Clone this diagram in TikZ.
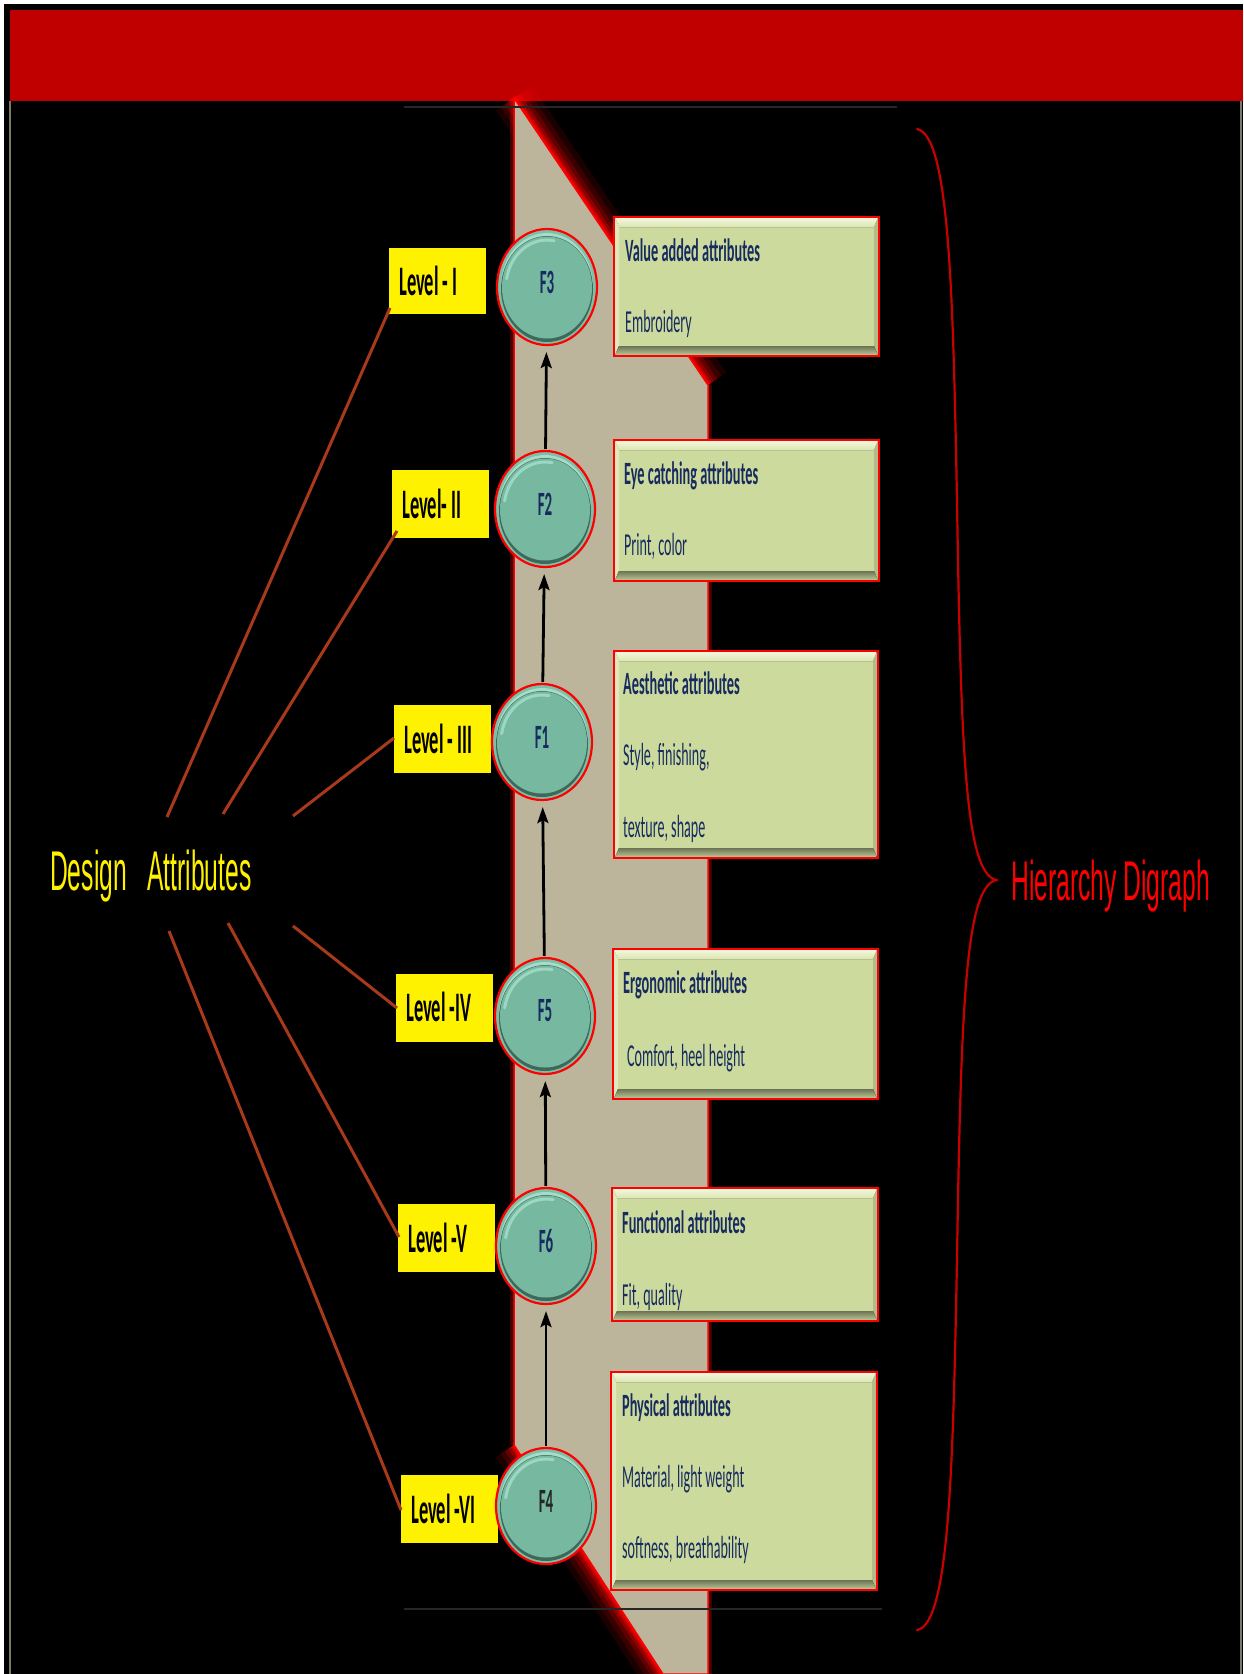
\documentclass[tikz,border=0pt]{standalone}
\usepackage{fontspec}
\usetikzlibrary{shapes.geometric,arrows.meta,fit}
\newfontfamily\calib[FakeStretch=0.44]{Carlito}
\newfontfamily\thinf[FakeStretch=0.44]{Liberation Sans}
\definecolor{bandc}{HTML}{BCB59B}
\definecolor{topred}{HTML}{C00000}
\definecolor{framegray}{HTML}{7A7A66}
\definecolor{linegray}{HTML}{262626}
\definecolor{brn}{HTML}{A8391B}
\definecolor{navy}{HTML}{172B5E}
\definecolor{boxface}{HTML}{CCDA9E}
\definecolor{bvtopa}{HTML}{F3F7DA}
\definecolor{bvtopb}{HTML}{DAE5B2}
\definecolor{bvleft}{HTML}{E0E9BC}
\definecolor{bvright}{HTML}{B2BC89}
\definecolor{bvbota}{HTML}{6C7354}
\definecolor{bvbotb}{HTML}{BAC492}
\definecolor{sphout}{HTML}{7DBFA7}
\definecolor{sphhi}{HTML}{A6DCC8}
\definecolor{sphdk}{HTML}{3E6859}
\definecolor{sphface}{HTML}{76B8A0}
\definecolor{sphgl}{HTML}{A9E2CD}
\definecolor{bracered}{HTML}{C80000}

\newcommand\sphere[5]{%
  \node[sph] (#1) at (#2,#3) {};
  \fill[sphhi] (#2,{#3-1}) ellipse [x radius=46pt, y radius=53pt];
  \fill[sphdk] (#2,{#3+2}) ellipse [x radius=46pt, y radius=53pt];
  \fill[sphface] (#2,{#3+0.5}) ellipse [x radius=45pt, y radius=51pt];
  \draw[sphgl, line width=3pt, opacity=0.75, line cap=round] (#2,#3) ++(80:41pt and 47pt) arc [start angle=80, end angle=170, x radius=41pt, y radius=47pt];
  \node[flbl, text=#5] (#1t) at (#2,{#3-5}) {#4};
}
\newcommand\attrbox[5]{%
  \node[abox, fit={(#2,#3)(#4,#5)}] (#1) {};
  \fill[top color=bvtopa, bottom color=bvtopb] ({#2+1.2},{#3+1.2}) -- ({#4-1.2},{#3+1.2}) -- ({#4-5},{#3+10}) -- ({#2+5},{#3+10}) -- cycle;
  \fill[bvleft] ({#2+1.2},{#3+1.2}) -- ({#2+5},{#3+10}) -- ({#2+5},{#5-10}) -- ({#2+1.2},{#5-1.2}) -- cycle;
  \fill[bvright] ({#4-1.2},{#3+1.2}) -- ({#4-5},{#3+10}) -- ({#4-5},{#5-10}) -- ({#4-1.2},{#5-1.2}) -- cycle;
  \fill[top color=bvbota, bottom color=bvbotb] ({#2+5},{#5-10}) -- ({#4-5},{#5-10}) -- ({#4-1.2},{#5-1.2}) -- ({#2+1.2},{#5-1.2}) -- cycle;
}

\begin{document}
\begin{tikzpicture}[x=1pt,y=-1pt,
  sph/.style={ellipse, minimum width=100pt, minimum height=116pt, inner sep=0pt, fill=sphout, draw=red, line width=2.2pt},
  abox/.style={rectangle, inner sep=0pt, draw=red, line width=2.5pt, fill=boxface},
  lvlbox/.style={rectangle, inner sep=0pt, fill=yellow},
  lvltxt/.style={anchor=base west, inner sep=0pt, font={\calib\bfseries\fontsize{42}{46}\selectfont}, text=black},
  ttl/.style={anchor=base west, inner sep=0pt, font={\calib\bfseries\fontsize{32.5}{36}\selectfont}, text=navy},
  bdy/.style={anchor=base west, inner sep=0pt, font={\calib\fontsize{32}{36}\selectfont}, text=navy},
  flbl/.style={inner sep=0pt, font={\calib\bfseries\fontsize{34}{38}\selectfont}},
  conn/.style={brn, line width=3pt},
  upar/.style={-{Stealth[length=16pt,width=11pt,inset=3pt]}, line width=2.8pt, black, shorten >=6pt, shorten <=1pt},
]
\useasboundingbox (0,0) rectangle (1243,1674);
% background
\fill[white] (0,0) rectangle (1243,1674);
\fill[black] (4,4) rectangle (1243,1674);
\fill[topred] (10,10) rectangle (1243,101);
\draw[framegray, line width=1.2pt] (10,101) -- (10,1674);
\draw[framegray, line width=1.2pt] (1241,101) -- (1241,1674);

% glow of the band
\foreach \w/\o in {44/0.10, 32/0.14, 22/0.2, 14/0.3, 8/0.45, 4/0.7} {
  \draw[red, line width=\w pt, opacity=\o] (514,98) -- (708,385);
  \draw[red, line width=\w pt, opacity=\o] (514,1445) -- (663,1674);
}
\draw[red, line width=8pt, opacity=0.25] (514,98) -- (514,1445);
\draw[red, line width=8pt, opacity=0.25] (708,385) -- (708,1674);
% band
\fill[bandc, draw=red, line width=1.5pt] (514,98) -- (708,385) -- (708,1674) -- (663,1674) -- (514,1445) -- cycle;

% horizontal guide lines
\draw[linegray, line width=2pt] (404,107) -- (897,107);
\draw[linegray, line width=2pt] (404,1609) -- (882,1609);

% yellow level boxes
\node[lvlbox, fit={(389,248)(486,314)}] (L1) {};
\node[lvlbox, fit={(392,470)(489,538)}] (L2) {};
\node[lvlbox, fit={(394,705)(491,773)}] (L3) {};
\node[lvlbox, fit={(396,974)(493,1042)}] (L4) {};
\node[lvlbox, fit={(398,1204)(495,1272)}] (L5) {};
\node[lvlbox, fit={(401,1475)(498,1543)}] (L6) {};
\node[lvltxt] (L1t) at (399,295) {Level - I};
\node[lvltxt] (L2t) at (402,518) {Level- II};
\node[lvltxt] (L3t) at (404,753) {Level - III};
\node[lvltxt] (L4t) at (406,1021) {Level -IV};
\node[lvltxt] (L5t) at (408,1252) {Level -V};
\node[lvltxt] (L6t) at (411,1523) {Level -VI};

% design attributes label and connectors
\node[anchor=base west, inner sep=0pt, font={\thinf\fontsize{56}{60}\selectfont}, text=yellow] (DA) at (50,890) {Design\ \ \ Attributes};
\coordinate (d1) at (167,817); \coordinate (e1) at (390,308);
\coordinate (d2) at (223,814); \coordinate (e2) at (397,531);
\coordinate (d3) at (293,816); \coordinate (e3) at (394,738);
\coordinate (d4) at (293,926); \coordinate (e4) at (397,1008);
\coordinate (d5) at (228,923); \coordinate (e5) at (399,1237);
\coordinate (d6) at (169,931); \coordinate (e6) at (401,1510);
\draw[conn] (d1) -- (e1);
\draw[conn] (d2) -- (e2);
\draw[conn] (d3) -- (e3);
\draw[conn] (d4) -- (e4);
\draw[conn] (d5) -- (e5);
\draw[conn] (d6) -- (e6);

% spheres
\sphere{F3}{547}{287}{F3}{navy}
\sphere{F2}{545}{509}{F2}{navy}
\sphere{F1}{542}{742}{F1}{navy}
\sphere{F5}{545}{1016}{F5}{navy}
\sphere{F6}{546}{1246}{F6}{navy}
\sphere{F4}{546}{1506}{F4}{black!85}

% arrows
\draw[upar] (F4) -- (F6);
\draw[upar] (F6) -- (F5);
\draw[upar] (F5) -- (F1);
\draw[upar] (F1) -- (F2);
\draw[upar] (F2) -- (F3);

% attribute boxes
\attrbox{B1}{614}{217}{879}{356}
\attrbox{B2}{614}{440}{879}{581}
\attrbox{B3}{614}{651}{878}{858}
\attrbox{B4}{613}{949}{878}{1099}
\attrbox{B5}{612}{1188}{878}{1321}
\attrbox{B6}{611}{1372}{877}{1590}
\node[ttl] (B1a) at (625,261) {Value added attributes};
\node[bdy] (B1b) at (625,332) {Embroidery};
\node[ttl] (B2a) at (624,484) {Eye catching attributes};
\node[bdy] (B2b) at (624,555) {Print, color};
\node[ttl] (B3a) at (623,694) {Aesthetic attributes};
\node[bdy] (B3b) at (623,765) {Style, finishing,};
\node[bdy] (B3c) at (623,837) {texture, shape};
\node[ttl] (B4a) at (623,993) {Ergonomic attributes};
\node[bdy] (B4b) at (627,1066) {Comfort, heel height};
\node[ttl] (B5a) at (622,1233) {Functional attributes};
\node[bdy] (B5b) at (622,1305) {Fit, quality};
\node[ttl] (B6a) at (622,1416) {Physical attributes};
\node[bdy] (B6b) at (622,1487) {Material, light weight};
\node[bdy] (B6c) at (622,1558) {softness, breathability};

% brace and label
\draw[bracered, line width=2.2pt, line cap=round] (917,129) .. controls (950,135) and (953,300) .. (957,500) .. controls (961,760) and (966,872) .. (996,880) .. controls (966,888) and (961,1000) .. (957,1260) .. controls (953,1460) and (950,1625) .. (917,1630);
\node[anchor=base west, inner sep=0pt, font={\thinf\fontsize{56}{60}\selectfont}, text=red] (HD) at (1011,900) {Hierarchy Digraph};
\end{tikzpicture}
\end{document}
